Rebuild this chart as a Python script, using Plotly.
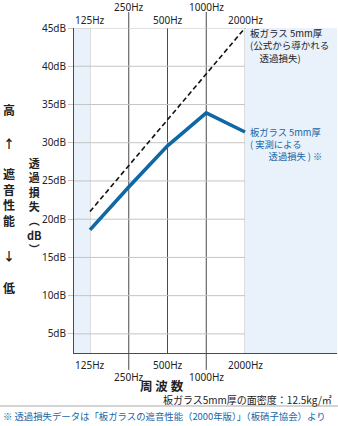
import numpy as np
import plotly.graph_objects as go

# ---- data ----
freqs = [125, 250, 500, 1000, 2000]
freq_labels = ["125Hz", "250Hz", "500Hz", "1000Hz", "2000Hz"]
theory_db = [21.0, 27.0, 33.0, 39.0, 45.0]      # 公式から導かれる透過損失
measured_db = [18.6, 24.2, 29.6, 33.9, 31.4]    # 実測による透過損失
y_ticks = [5, 10, 15, 20, 25, 30, 35, 40, 45]
y_tick_labels = [f"{v}dB" for v in y_ticks]
theory_label = ["板ガラス 5mm厚", "(公式から導かれる", "　透過損失)"]
measured_label = ["板ガラス 5mm厚", "( 実測による", "　　透過損失 ) ※"]
ytitle_chars = ["透", "過", "損", "失", "︵", "dB", "︶"]

# octave index positions (linear axis, log2 of frequency)
xpos = list(np.log2(np.array(freqs) / 125.0))

BLUE = "#0f68a6"
TXT_BLUE = "#1766a8"
DARK = "#4a4a4a"
LIGHT = "#c4c4c4"
BAND = "#e9f1fb"
JP = "Noto Sans CJK JP"
LAT = "Noto Sans"

XMIN, XMAX = -0.413, 6.374
YMIN, YMAX = 2.5, 45

fig = go.Figure()

fig.add_trace(go.Scatter(x=xpos, y=theory_db, mode="lines",
                         line=dict(color="#111", width=1.6, dash="5px,3px"),
                         showlegend=False, hoverinfo="skip"))
fig.add_trace(go.Scatter(x=xpos, y=measured_db, mode="lines",
                         line=dict(color=BLUE, width=3.6),
                         showlegend=False, hoverinfo="skip"))

shapes = []
shapes.append(dict(type="rect", xref="x", yref="y", x0=XMIN, x1=xpos[0], y0=YMIN, y1=YMAX,
                   fillcolor=BAND, line=dict(width=0), layer="below"))
shapes.append(dict(type="rect", xref="x", yref="y", x0=xpos[-1], x1=XMAX, y0=YMIN, y1=YMAX,
                   fillcolor=BAND, line=dict(width=0), layer="below"))
for v in y_ticks:
    shapes.append(dict(type="line", xref="x", yref="y", x0=XMIN, x1=xpos[-1], y0=v, y1=v,
                       line=dict(color=LIGHT, width=1), layer="below"))
for i, xp in enumerate(xpos):
    if i in (0, 4):
        shapes.append(dict(type="line", xref="x", yref="paper", x0=xp, x1=xp, y0=0, y1=1,
                           line=dict(color=LIGHT, width=1.2), layer="below"))
    elif i == 2:
        shapes.append(dict(type="line", xref="x", yref="paper", x0=xp, x1=xp, y0=0, y1=1,
                           line=dict(color=DARK, width=1), layer="below"))
    else:
        shapes.append(dict(type="line", xref="x", yref="paper", x0=xp, x1=xp, y0=-0.052, y1=1.049,
                           line=dict(color=DARK, width=1), layer="below"))


def px_y(py):
    # page pixel y -> paper coordinate (plot top 28, bottom 353)
    return (353 - py) / 325.0


def px_x(px):
    return (px - 74) / 263.0


shapes.append(dict(type="line", xref="paper", yref="paper", x0=px_x(0), x1=px_x(338),
                   y0=px_y(406), y1=px_y(406), line=dict(color="#aaaaaa", width=1)))

annotations = []


def note(text, px, py, size, color="#222", family=JP, xanchor="center", align="center"):
    annotations.append(dict(x=px_x(px), xref="paper", y=px_y(py), yref="paper",
                            text=text, showarrow=False, xanchor=xanchor, yanchor="middle",
                            align=align, font=dict(family=family, size=size, color=color)))


# frequency labels top and bottom (staggered)
for i, (xp, lab) in enumerate(zip(xpos, freq_labels)):
    hi = i % 2 == 1
    annotations.append(dict(x=xp, xref="x", yref="paper", y=px_y(7 if hi else 20),
                            text=lab, showarrow=False, xanchor="center", yanchor="middle",
                            font=dict(family=LAT, size=10, color="#222")))
    annotations.append(dict(x=xp, xref="x", yref="paper", y=px_y(377 if hi else 365),
                            text=lab, showarrow=False, xanchor="center", yanchor="middle",
                            font=dict(family=LAT, size=10, color="#222")))

# series labels
note("<br>".join(theory_label), 248, 46, 9.5, "#222", xanchor="left", align="left")
note("<br>".join(measured_label), 248, 143.5, 9.3, TXT_BLUE, xanchor="left", align="left")

# left side labels
note("<b>高</b>", 9, 109, 12)
note("<b>↑</b>", 9, 143, 12)
note("<b>遮<br>音<br>性<br>能</b>", 9, 197, 12)
note("<b>↓</b>", 9, 255, 12)
note("<b>低</b>", 9, 287, 12)
note("<b>" + "<br>".join(ytitle_chars) + "</b>", 34, 205.5, 11)

# axis title and notes
note("<b>周 波 数</b>", 162, 385, 12.5)
note("板ガラス5mm厚の面密度：12.5kg/㎡", 334, 399, 10, xanchor="right")
note("※ 透過損失データは「板ガラスの遮音性能（2000年版）」（板硝子協会）より",
     1, 416, 9.4, TXT_BLUE, xanchor="left")

fig.update_layout(
    width=338, height=426,
    margin=dict(l=74, r=1, t=28, b=73),
    paper_bgcolor="white", plot_bgcolor="white",
    shapes=shapes, annotations=annotations,
    xaxis=dict(range=[XMIN, XMAX], showgrid=False, zeroline=False, showticklabels=False,
               showline=True, linecolor=DARK, linewidth=1, ticks=""),
    yaxis=dict(range=[YMIN, YMAX], showgrid=False, zeroline=False,
               tickvals=y_ticks, ticktext=y_tick_labels,
               ticks="outside", ticklen=5, tickcolor=LIGHT,
               showline=True, linecolor=DARK, linewidth=1,
               tickfont=dict(family=LAT, size=10, color="#222")),
)

fig.write_html("out.html")
